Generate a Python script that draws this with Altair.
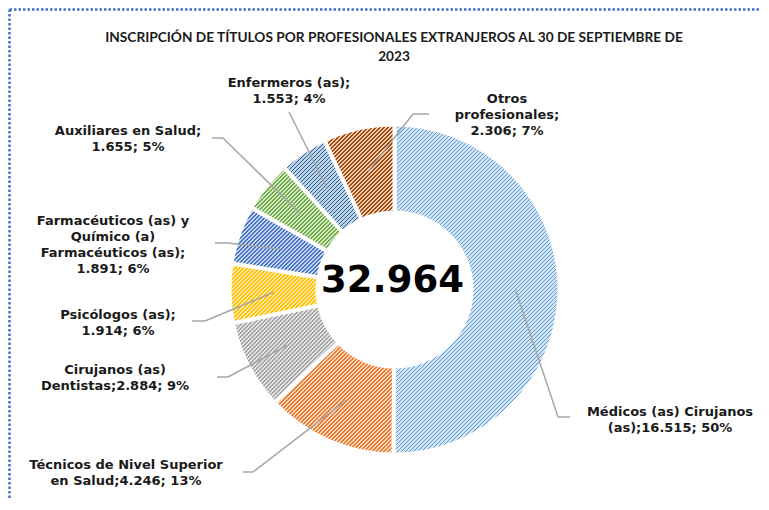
import math
import altair as alt
import pandas as pd

# ---------------- data ----------------
categories = [
    "Médicos (as) Cirujanos (as)",
    "Técnicos de Nivel Superior en Salud",
    "Cirujanos (as) Dentistas",
    "Psicólogos (as)",
    "Farmacéuticos (as) y Químico (a) Farmacéuticos (as)",
    "Auxiliares en Salud",
    "Enfermeros (as)",
    "Otros profesionales",
]
values = [16515, 4246, 2884, 1914, 1891, 1655, 1553, 2306]
label_text = [
    "Médicos (as) Cirujanos\n(as);16.515; 50%",
    "Técnicos de Nivel Superior\nen Salud;4.246; 13%",
    "Cirujanos (as)\nDentistas;2.884; 9%",
    "Psicólogos (as);\n1.914; 6%",
    "Farmacéuticos (as) y\nQuímico (a)\nFarmacéuticos (as);\n1.891; 6%",
    "Auxiliares en Salud;\n1.655; 5%",
    "Enfermeros (as);\n1.553; 4%",
    "Otros\nprofesionales;\n2.306; 7%",
]
title_text = "INSCRIPCIÓN DE TÍTULOS POR PROFESIONALES EXTRANJEROS AL 30 DE SEPTIEMBRE DE\n2023"

# ---------------- styles / layout ----------------
stripe_colors = ["#5b9bd5", "#ed7d31", "#a5a5a5", "#ffc000", "#4472c4", "#70ad47", "#255e91", "#9e480e"]
back_colors = ["#d2e3f4", "#f9d5bb", "#e4e4e4", "#ffe9a6", "#c9d7ef", "#d5e9c8", "#bfd3e8", "#f6cfb3"]

W, H = 753, 490
CX, CY = 386.5, 281.5
R_OUT, R_IN = 165, 77
R_ANCHOR = 121
HATCH = 4.0  # horizontal period of hatch, px

# label position = centre x, middle of first line y
label_x = [662, 118, 107, 110, 105, 120, 281, 499]
label_y = [404, 457, 362, 307, 213, 123, 75, 91]
elbow_x = [550, 245, 220, 197, 220, 215, 281, 405]
elbow_y = [409, 464, 369, 313, 235, 130, 104, 106]
end_x = [562, 235, 209, 184, 207, 204, 281, 421]

total = sum(values)
total_text = f"{total:,}".replace(",", ".")

df = pd.DataFrame({
    "category": categories,
    "value": values,
    "order": list(range(len(values))),
    "label": label_text,
    "lx": label_x, "ly": label_y,
    "ex": elbow_x, "ey": elbow_y, "hx": end_x,
})


def sector_bbox(t1, t2, ri, ro):
    pts = []
    for r in (ri, ro):
        for t in (t1, t2):
            pts.append((r * math.sin(t), -r * math.cos(t)))
    for k in range(5):
        a = k * math.pi / 2
        if t1 <= a <= t2:
            pts.append((ro * math.sin(a), -ro * math.cos(a)))
    xs = [p[0] for p in pts]
    ys = [p[1] for p in pts]
    return max(xs) - min(xs), max(ys) - min(ys)


def hatch_gradient(fg, bg, w, h, frac=0.48):
    a = (1 / h + 1 / w) / (1 / h ** 2 + 1 / w ** 2)
    dx, dy = a / h, a / w
    n = (w + h) / HATCH
    stops = []
    k = 0
    while k / n < 1:
        o0 = k / n
        o1 = min((k + 1 - frac) / n, 1)
        o2 = min((k + 1) / n, 1)
        stops += [
            alt.GradientStop(color=bg, offset=round(o0, 5)),
            alt.GradientStop(color=bg, offset=round(o1, 5)),
            alt.GradientStop(color=fg, offset=round(o1, 5)),
            alt.GradientStop(color=fg, offset=round(o2, 5)),
        ]
        k += 1
    return alt.LinearGradient(gradient="linear", stops=stops, x1=0, y1=0, x2=dx, y2=dy)


base = alt.Chart(df).transform_window(
    cum="sum(value)", sort=[alt.SortField("order")], frame=[None, 0]
).transform_joinaggregate(
    tot="sum(value)"
).transform_calculate(
    start="datum.cum - datum.value",
    mid="(datum.cum - datum.value / 2) / datum.tot * 2 * PI",
)

theta_scale = alt.Scale(domain=[0, total], range=[0, 2 * math.pi])

layers = []
cum = 0
for i, v in enumerate(values):
    t1 = cum / total * 2 * math.pi
    cum += v
    t2 = cum / total * 2 * math.pi
    w, h = sector_bbox(t1, t2, R_IN, R_OUT)
    grad = hatch_gradient(stripe_colors[i], back_colors[i], w, h)
    arc = base.transform_filter(alt.datum.order == i).mark_arc(
        fill=grad, stroke="white", strokeWidth=4, outerRadius=R_OUT, innerRadius=R_IN
    ).encode(
        theta=alt.Theta("start:Q", scale=theta_scale),
        theta2="cum:Q",
        x=alt.value(CX),
        y=alt.value(CY),
    )
    layers.append(arc)

anchors = base.transform_calculate(
    ax=f"{CX} + {R_ANCHOR} * sin(datum.mid)",
    ay=f"{CY} - {R_ANCHOR} * cos(datum.mid)",
)

lead1 = anchors.mark_rule(color="#a6a6a6", strokeWidth=1.5).encode(
    x=alt.X("ax:Q", scale=None), y=alt.Y("ay:Q", scale=None),
    x2="ex:Q", y2="ey:Q",
)
lead2 = base.mark_rule(color="#a6a6a6", strokeWidth=1.5).encode(
    x=alt.X("ex:Q", scale=None), y=alt.Y("ey:Q", scale=None), x2="hx:Q",
)

labels = alt.Chart(df).mark_text(
    font="DejaVu Sans", fontWeight="bold", fontSize=13, lineBreak="\n", lineHeight=16,
    align="center", baseline="middle", color="#1a1a1a",
).encode(
    x=alt.X("lx:Q", scale=None), y=alt.Y("ly:Q", scale=None), text="label:N",
)

dummy = pd.DataFrame({"k": [0]})
title = alt.Chart(dummy).mark_text(
    font="Lato", fontWeight="bold", fontSize=13.7, lineBreak="\n", lineHeight=18.5,
    align="center", baseline="middle", color="#1a1a1a",
).encode(x=alt.value(386), y=alt.value(30), text=alt.value(title_text))

center = alt.Chart(dummy).mark_text(
    font="DejaVu Sans", fontWeight="bold", fontSize=37, align="center", baseline="middle", color="#000000",
).encode(x=alt.value(384.5), y=alt.value(272.5), text=alt.value(total_text))

border_top = alt.Chart(dummy).mark_rule(color="#4472c4", strokeWidth=2.5, strokeDash=[2.5, 2]).encode(
    x=alt.value(1.5), x2=alt.value(W), y=alt.value(1.5)
)
border_left = alt.Chart(dummy).mark_rule(color="#4472c4", strokeWidth=2.5, strokeDash=[2.5, 2]).encode(
    x=alt.value(1.5), y=alt.value(1.5), y2=alt.value(H)
)

chart = alt.layer(*layers, lead1, lead2, labels, title, center, border_top, border_left).properties(
    width=W, height=H, padding=0, autosize=alt.AutoSizeParams(type="none"),
    background="white",
).configure_view(stroke=None)

chart.save("out.html", embed_options={"renderer": "svg", "actions": False})
